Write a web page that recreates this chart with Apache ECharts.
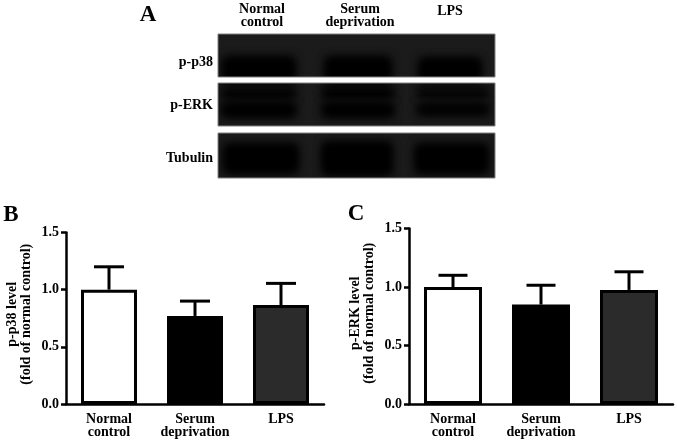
<!DOCTYPE html>
<html><head><meta charset="utf-8">
<style>html,body{margin:0;padding:0;background:#fff}#c{width:677px;height:443px}</style>
<script src="https://cdn.jsdelivr.net/npm/echarts@6/dist/echarts.min.js"></script>
</head><body><div id="c"></div>
<script>
var categories = ['Normal\ncontrol', 'Serum\ndeprivation', 'LPS'];
var p38Means = [1.0, 0.77, 0.865];
var p38Upper = [1.2, 0.9, 1.055];
var erkMeans = [1.0, 0.85, 0.975];
var erkUpper = [1.1, 1.015, 1.13];
var barColors = ['#ffffff', '#000000', '#2b2b2b'];
var F = '"Liberation Serif","Times New Roman",serif';
var chart = echarts.init(document.getElementById('c'), null, {renderer: 'canvas'});

function xAxis(i) {
  return {type: 'category', gridIndex: i, data: categories,
    axisLine: {lineStyle: {color: '#000', width: 2.5}},
    axisTick: {alignWithLabel: true, length: 5, lineStyle: {color: '#000', width: 2.5}},
    axisLabel: {color: '#000', fontFamily: F, fontWeight: 'bold', fontSize: 14, lineHeight: 13, margin: 9, interval: 0}};
}
function yAxis(i, name, gap, shift) {
  return {type: 'value', gridIndex: i, min: 0, max: 1.5, interval: 0.5,
    name: name, nameLocation: 'middle', nameRotate: 90, nameGap: gap,
    nameTextStyle: {color: '#000', fontFamily: F, fontWeight: 'bold', fontSize: 14, lineHeight: 14, padding: [0, 0, 0, shift]},
    splitLine: {show: false},
    axisLine: {show: true, lineStyle: {color: '#000', width: 2.5}},
    axisTick: {show: true, length: 5, lineStyle: {color: '#000', width: 2.5}},
    axisLabel: {color: '#000', fontFamily: F, fontWeight: 'bold', fontSize: 14, margin: 7,
      formatter: function (v) { return v.toFixed(1); }}};
}
function bars(i, vals, w) {
  return {type: 'bar', xAxisIndex: i, yAxisIndex: i, barWidth: w, silent: true,
    data: vals.map(function (v, k) {
      return {value: v, itemStyle: {color: barColors[k], borderColor: '#000', borderWidth: 3}};
    })};
}
function errs(i, means, upper, cap) {
  return {type: 'custom', xAxisIndex: i, yAxisIndex: i, silent: true, z: 1,
    data: means.map(function (m, k) { return [k, m, upper[k]]; }),
    renderItem: function (p, api) {
      var a = api.coord([api.value(0), api.value(1)]);
      var b = api.coord([api.value(0), api.value(2)]);
      var st = {stroke: '#000', lineWidth: 3, fill: null};
      return {type: 'group', children: [
        {type: 'line', shape: {x1: a[0], y1: a[1], x2: b[0], y2: b[1]}, style: st},
        {type: 'line', shape: {x1: b[0] - cap / 2, y1: b[1], x2: b[0] + cap / 2, y2: b[1]}, style: st}
      ]};
    }};
}

// Western-blot panels (picture in the reference, not chart data)
var panels = [
  {y: 34, h: 43, bands: [[224, 58, 70, 24], [326, 58, 64, 24], [420, 59, 60, 22]]},
  {y: 83, h: 43, bands: [[223, 90, 72, 7], [223, 104, 72, 12], [323, 89, 70, 8], [323, 104, 70, 12], [418, 90, 70, 6], [418, 105, 70, 9]]},
  {y: 133, h: 45, bands: [[225, 145, 72, 27], [323, 143, 68, 31], [416, 145, 71, 27]]}
];
var g = [];
var OFF = 1000;
panels.forEach(function (p) {
  g.push({type: 'rect', z: 1, shape: {x: 218, y: p.y, width: 277, height: p.h},
    style: {fill: '#1b1b1b'}});
  p.bands.forEach(function (b) {
    for (var n = 0; n < 2; n++) {
      g.push({type: 'rect', z: 2, shape: {x: b[0] - OFF, y: b[1], width: b[2], height: b[3]},
        style: {fill: '#000', shadowBlur: 10, shadowColor: '#000', shadowOffsetX: OFF}});
    }
  });
});
// white gaps and panel frames over the blurred bands
[[210, 24, 295, 10], [210, 77, 295, 6], [210, 126, 295, 7], [210, 178, 295, 12], [200, 30, 18, 150], [495, 30, 15, 150]].forEach(function (r) {
  g.push({type: 'rect', z: 3, shape: {x: r[0], y: r[1], width: r[2], height: r[3]}, style: {fill: '#fff'}});
});
panels.forEach(function (p) {
  g.push({type: 'rect', z: 4, shape: {x: 218, y: p.y, width: 277, height: p.h},
    style: {fill: null, stroke: '#808080', lineWidth: 1}});
});
function txt(x, y, s, size, align) {
  g.push({type: 'text', z: 5, x: x, y: y, style: {text: s, fill: '#000', align: align || 'center',
    verticalAlign: 'middle', lineHeight: 13, font: 'bold ' + size + 'px ' + F}});
}
txt(148, 15, 'A', 23);
txt(11, 215, 'B', 23);
txt(356, 214, 'C', 23);
txt(262, 16, 'Normal\ncontrol', 14);
txt(360, 16, 'Serum\ndeprivation', 14);
txt(450, 11, 'LPS', 14);
txt(213, 62, 'p-p38', 14, 'right');
txt(213, 105, 'p-ERK', 14, 'right');
txt(213, 158, 'Tubulin', 14, 'right');

chart.setOption({
  animation: false,
  backgroundColor: '#fff',
  grid: [
    {left: 66, width: 258, top: 232.5, height: 171.5},
    {left: 409, width: 264, top: 228.5, height: 175.5}
  ],
  xAxis: [xAxis(0), xAxis(1)],
  yAxis: [yAxis(0, 'p-p38 level\n(fold of normal control)', 33, 8), yAxis(1, 'p-ERK level\n(fold of normal control)', 33, 6)],
  series: [errs(0, p38Means, p38Upper, 30), bars(0, p38Means, 56), errs(1, erkMeans, erkUpper, 29), bars(1, erkMeans, 58)],
  graphic: g
});
</script></body></html>
